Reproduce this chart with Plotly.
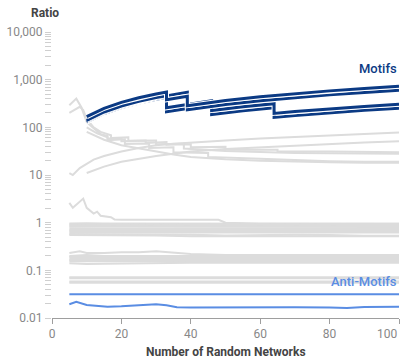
import plotly.graph_objects as go

# ---------------- data ----------------
# Motif ratio lines (x = number of random networks, repeated x = drop)
MOTIF1_X = [10, 15, 20, 25, 30, 33, 33, 36, 39, 39, 45, 50, 60, 70, 80, 90, 100]
MOTIF1_Y = [167, 250, 334, 417, 501, 551, 380, 414, 449, 284, 328, 364, 437, 510, 582, 655, 728]
MOTIF2_X = [10, 15, 20, 25, 30, 33, 36, 39, 39, 45, 50, 60, 70, 80, 90, 100]
MOTIF2_Y = [140, 210, 280, 350, 420, 462, 504, 546, 234, 270, 300, 360, 420, 480, 540, 600]
MOTIF3_X = [10, 15, 20, 25, 30, 33, 33, 39, 46, 46, 50, 55, 64, 64, 70, 80, 90, 100]
MOTIF3_Y = [135, 203, 270, 338, 405, 446, 258, 304, 360, 225, 245, 270, 314, 196, 214, 245, 275, 306]
MOTIF4_X = [10, 15, 20, 25, 30, 33, 33, 39, 46, 46, 50, 55, 64, 64, 70, 80, 90, 100]
MOTIF4_Y = [130, 195, 260, 325, 390, 429, 212, 251, 296, 185, 202, 222, 258, 161, 176, 202, 227, 252]

# Gray lines in the 10-400 region
GRAY1_X = [5, 6, 8, 10, 12, 15, 20, 25, 30, 35, 40, 50, 60, 70, 80, 90, 100]
GRAY1_Y = [11, 10, 14, 17, 21, 25, 31, 37, 42, 45, 48, 53, 58, 63, 68, 73, 78]
GRAY2_X = [10, 12, 15, 20, 25, 30, 35, 40, 50, 60, 70, 80, 90, 100]
GRAY2_Y = [11, 12.5, 15, 19, 22, 25, 28, 31, 35, 38, 42, 45, 48, 51]
GRAY3_X = [5, 7, 8.5, 10, 11, 12, 14, 16, 16, 20, 20, 27, 27, 33, 33, 40, 40, 50, 50, 65, 65, 80, 100]
GRAY3_Y = [290, 400, 260, 130, 110, 95, 72, 66, 58, 58, 51, 53, 47, 49, 43, 44, 38, 39, 34, 34, 31, 31, 30]
GRAY4_X = [5, 8, 9, 10, 12, 14, 17, 17, 22, 22, 30, 30, 38, 38, 50, 60, 70, 80, 90, 100]
GRAY4_Y = [200, 270, 230, 150, 100, 80, 68, 60, 62, 52, 53, 44, 45, 36, 32, 30, 29, 28.5, 28, 28]
GRAY5_X = [10, 13, 16, 16, 21, 21, 28, 28, 35, 35, 45, 45, 60, 70, 80, 90, 100]
GRAY5_Y = [100, 75, 62, 54, 56, 45, 46, 37, 38, 30, 29, 24, 22, 20.5, 19.5, 19, 19]
GRAY6_X = [10, 15, 20, 25, 30, 35, 40, 50, 60, 70, 80, 90, 100]
GRAY6_Y = [80, 55, 42, 36, 32, 27, 24, 21.5, 20, 19, 18.5, 18, 18]
GRAY7_X = [5, 6, 9, 10, 12, 13, 14, 17, 18, 20, 30, 40, 48, 50, 60, 100]
GRAY7_Y = [2.6, 2.05, 3.2, 2.05, 1.55, 1.7, 1.4, 1.3, 1.17, 1.15, 1.15, 1.13, 1.15, 1.0, 0.95, 0.95]

# Mostly flat gray lines, sampled on a shared x grid
FLAT_X = [5, 8, 10, 15, 20, 25, 30, 40, 50, 60, 70, 80, 90, 100]
BAND1_Y = [
    [0.96, 0.98, 0.97, 0.96, 0.96, 0.95, 0.95, 0.95, 0.95, 0.95, 0.95, 0.95, 0.95, 0.95],
    [0.92, 0.93, 0.91, 0.91, 0.90, 0.90, 0.90, 0.91, 0.90, 0.90, 0.90, 0.90, 0.90, 0.90],
    [0.87, 0.86, 0.86, 0.86, 0.86, 0.85, 0.85, 0.85, 0.85, 0.85, 0.85, 0.85, 0.85, 0.85],
    [0.82, 0.82, 0.81, 0.81, 0.81, 0.80, 0.80, 0.80, 0.81, 0.81, 0.81, 0.81, 0.81, 0.81],
    [0.75, 0.74, 0.75, 0.74, 0.74, 0.74, 0.74, 0.74, 0.74, 0.74, 0.74, 0.74, 0.74, 0.74],
    [0.70, 0.70, 0.70, 0.70, 0.70, 0.70, 0.70, 0.70, 0.70, 0.70, 0.70, 0.70, 0.70, 0.70],
    [0.66, 0.66, 0.66, 0.66, 0.66, 0.66, 0.66, 0.66, 0.66, 0.66, 0.66, 0.66, 0.66, 0.66],
    [0.62, 0.61, 0.62, 0.62, 0.62, 0.62, 0.62, 0.62, 0.62, 0.62, 0.62, 0.62, 0.62, 0.62],
    [0.58, 0.58, 0.58, 0.58, 0.58, 0.58, 0.58, 0.56, 0.54, 0.55, 0.56, 0.55, 0.53, 0.53],
    [0.55, 0.55, 0.55, 0.55, 0.55, 0.55, 0.54, 0.52, 0.52, 0.53, 0.53, 0.53, 0.52, 0.52],
]
BAND2_Y = [
    [0.23, 0.25, 0.23, 0.23, 0.24, 0.24, 0.25, 0.22, 0.21, 0.21, 0.21, 0.21, 0.21, 0.21],
    [0.20, 0.21, 0.21, 0.20, 0.20, 0.20, 0.20, 0.20, 0.20, 0.20, 0.20, 0.20, 0.20, 0.20],
    [0.19, 0.19, 0.19, 0.19, 0.19, 0.19, 0.19, 0.19, 0.19, 0.19, 0.19, 0.19, 0.19, 0.19],
    [0.176, 0.176, 0.176, 0.176, 0.176, 0.176, 0.176, 0.176, 0.176, 0.176, 0.176, 0.176, 0.176, 0.176],
    [0.165, 0.165, 0.165, 0.165, 0.165, 0.165, 0.165, 0.165, 0.165, 0.165, 0.165, 0.165, 0.165, 0.165],
    [0.155, 0.155, 0.155, 0.155, 0.155, 0.155, 0.155, 0.155, 0.155, 0.155, 0.155, 0.155, 0.155, 0.155],
    [0.14, 0.137, 0.135, 0.138, 0.14, 0.142, 0.145, 0.145, 0.145, 0.145, 0.145, 0.145, 0.145, 0.145],
]
BAND3_Y = [
    [0.072, 0.072, 0.072, 0.072, 0.072, 0.072, 0.072, 0.072, 0.072, 0.072, 0.072, 0.072, 0.072, 0.072],
    [0.068, 0.068, 0.068, 0.068, 0.068, 0.068, 0.068, 0.068, 0.068, 0.068, 0.068, 0.068, 0.068, 0.068],
    [0.058, 0.058, 0.058, 0.058, 0.058, 0.058, 0.058, 0.058, 0.058, 0.058, 0.058, 0.058, 0.058, 0.058],
    [0.055, 0.055, 0.055, 0.055, 0.055, 0.055, 0.055, 0.055, 0.055, 0.055, 0.055, 0.055, 0.055, 0.055],
]

# Anti-motif lines
ANTI1_X = [5, 100]
ANTI1_Y = [0.0316, 0.0316]
ANTI2_X = [5, 7, 10, 13, 16, 20, 25, 30, 33, 36, 40, 50, 60, 70, 80, 85, 90, 100]
ANTI2_Y = [0.0195, 0.0218, 0.0188, 0.0182, 0.0172, 0.0176, 0.0182, 0.0195, 0.0185, 0.0168, 0.0166,
           0.0168, 0.0170, 0.0168, 0.0166, 0.0163, 0.0170, 0.0172]

# Axis ticks
X_TICKS = [0, 20, 40, 60, 80, 100]
X_TICK_TEXT = ["0", "20", "40", "60", "80", ""]
Y_DECADES = [0.01, 0.1, 1, 10, 100, 1000, 10000]
Y_DECADE_TEXT = ["0.01", "0.1", "1", "10", "100", "1,000", "10,000"]

# ---------------- styles ----------------
GRAY = "#dcdcdc"
NAVY = "#0b3a84"
BLUE = "#5a8de3"
FONT = "Roboto"

fig = go.Figure()

def add_line(x, y, color, width):
    fig.add_trace(go.Scatter(x=x, y=y, mode="lines", hoverinfo="skip",
                             line=dict(color=color, width=width)))

for gx, gy in [(GRAY1_X, GRAY1_Y), (GRAY2_X, GRAY2_Y), (GRAY3_X, GRAY3_Y), (GRAY4_X, GRAY4_Y),
               (GRAY5_X, GRAY5_Y), (GRAY6_X, GRAY6_Y), (GRAY7_X, GRAY7_Y)]:
    add_line(gx, gy, GRAY, 2)
for band in (BAND1_Y, BAND2_Y, BAND3_Y):
    for ys in band:
        add_line(FLAT_X, ys, GRAY, 2)

for mx, my in [(MOTIF4_X, MOTIF4_Y), (MOTIF3_X, MOTIF3_Y), (MOTIF2_X, MOTIF2_Y), (MOTIF1_X, MOTIF1_Y)]:
    add_line(mx, my, "white", 5)
    add_line(mx, my, NAVY, 3)

add_line(ANTI1_X, ANTI1_Y, BLUE, 2)
add_line(ANTI2_X, ANTI2_Y, BLUE, 2)

# y ticks: every 1..9 x 10^k, labels on decades
y_tickvals, y_ticktext = [], []
for i, d in enumerate(Y_DECADES):
    y_tickvals.append(d)
    y_ticktext.append(Y_DECADE_TEXT[i])
    if i < len(Y_DECADES) - 1:
        for m in range(2, 10):
            y_tickvals.append(m * d)
            y_ticktext.append("")

fig.update_layout(
    width=407, height=363,
    margin=dict(l=52, r=8, t=32, b=45),
    paper_bgcolor="white", plot_bgcolor="white",
    showlegend=False,
    font=dict(family=FONT, size=12, color="#888888"),
    xaxis=dict(range=[0, 100], tickvals=X_TICKS, ticktext=X_TICK_TEXT,
               showgrid=False, zeroline=False, showline=True, linecolor="#9e9e9e", linewidth=1,
               ticks="outside", ticklen=5, tickcolor="#9e9e9e",
               tickfont=dict(family=FONT, size=12, color="#888888")),
    yaxis=dict(type="log", range=[-2, 4], tickvals=y_tickvals, ticktext=y_ticktext,
               showgrid=False, zeroline=False, showline=False,
               ticks="outside", ticklen=6, tickcolor="#cfcfcf",
               tickfont=dict(family=FONT, size=12, color="#888888")),
    annotations=[
        dict(text="<b>Ratio</b>", xref="paper", yref="paper", x=-0.065, y=1.066,
             xanchor="left", yanchor="middle", showarrow=False,
             font=dict(family=FONT, size=12, color="#444444")),
        dict(text="<b>Number of Random Networks</b>", xref="paper", yref="paper", x=0.5, y=-0.119,
             xanchor="center", yanchor="middle", showarrow=False,
             font=dict(family=FONT, size=12, color="#444444")),
        dict(text="100", xref="paper", yref="paper", x=1.0, y=-0.056,
             xanchor="right", yanchor="middle", showarrow=False,
             font=dict(family=FONT, size=12, color="#888888")),
        dict(text="Motifs", xref="paper", yref="paper", x=1.0, y=0.874,
             xanchor="right", yanchor="middle", showarrow=False,
             font=dict(family=FONT, size=13, color=NAVY, weight=500)),
        dict(text="Anti-Motifs", xref="paper", yref="paper", x=1.0, y=0.129,
             xanchor="right", yanchor="middle", showarrow=False,
             font=dict(family=FONT, size=13, color=BLUE, weight=500)),
    ],
)

fig.write_html("out.html", config={"displayModeBar": False},
               post_script="document.body.style.margin='0';document.body.style.padding='0';")
